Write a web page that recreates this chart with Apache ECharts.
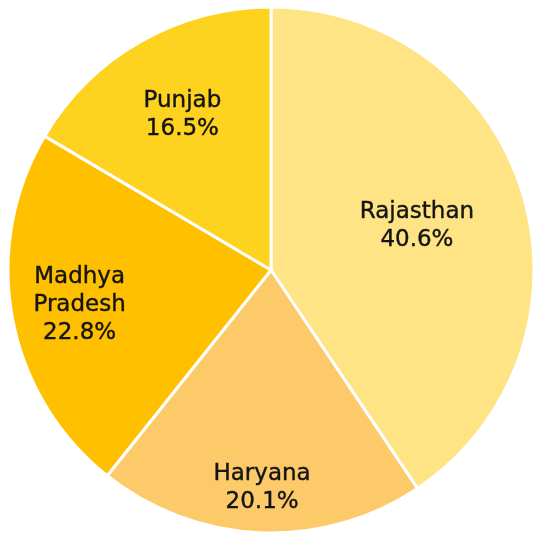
<!DOCTYPE html>
<html>
<head>
<meta charset="utf-8">
<script src="https://cdn.jsdelivr.net/npm/echarts@6/dist/echarts.min.js"></script>
<style>
    html, body { margin: 0; padding: 0; background: #fff; }
    #chart { width: 533px; height: 534px; }
</style>
</head>
<body>
<div id="chart"></div>
<script>
    var states = ['Rajasthan', 'Haryana', 'Madhya Pradesh', 'Punjab'];
    var shares = [40.6, 20.1, 22.8, 16.5];
    var colors = ['#FFE486', '#FDCA6A', '#FFC000', '#FED320'];
    // how far out each label sits, as a share of the radius
    var labelRadius = [0.58, 0.83, 0.74, 0.68];

    var cx = 271, cy = 270, r = 263;
    var total = shares.reduce(function(a, b){ return a + b; }, 0);

    var midAngle = function(i){
        var before = 0;
        for(var k = 0; k < i; k++){ before += shares[k]; }
        return (before + shares[i] / 2) / total * Math.PI * 2;
    };

    var option = {
        animation: false,
        series: [
            {
                type: 'pie',
                center: [cx, cy],
                radius: r,
                startAngle: 90,
                clockwise: true,
                itemStyle: {
                    borderColor: '#fff',
                    borderWidth: 3
                },
                label: {
                    show: true,
                    position: 'inside',
                    fontFamily: 'DejaVu Sans',
                    fontSize: 23,
                    lineHeight: 28,
                    color: '#141414',
                    textBorderColor: '#141414',
                    textBorderWidth: 0.4,
                    align: 'center',
                    formatter: function(p){
                        return p.name.replace(' ', '\n') + '\n' + p.value + '%';
                    }
                },
                labelLine: { show: false },
                labelLayout: function(p){
                    var a = midAngle(p.dataIndex);
                    var d = labelRadius[p.dataIndex] * r;
                    return {
                        x: cx + d * Math.sin(a),
                        y: cy - d * Math.cos(a),
                        align: 'center',
                        verticalAlign: 'middle'
                    };
                },
                data: states.map(function(s, i){
                    return { name: s, value: shares[i], itemStyle: { color: colors[i] } };
                })
            }
        ]
    };

    echarts.init(document.getElementById('chart')).setOption(option);
</script>
</body>
</html>
